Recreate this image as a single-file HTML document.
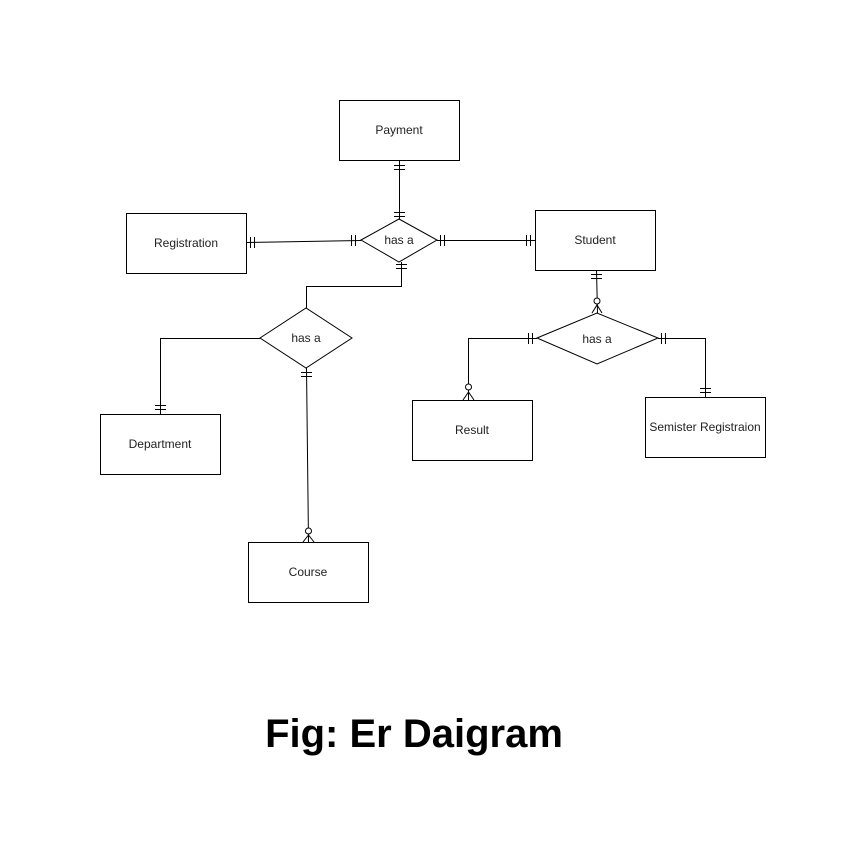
<!DOCTYPE html>
<html><head><style>body{margin:0;background:#fff}svg{display:block}</style></head><body>
<svg width="866" height="856" xmlns="http://www.w3.org/2000/svg" font-family="Liberation Sans, Arial, sans-serif">
<g fill="#fff" stroke="#000" stroke-width="1">
<rect x="339.5" y="100.5" width="120" height="60"/>
<rect x="126.5" y="213.5" width="120" height="60"/>
<rect x="535.5" y="210.5" width="120" height="60"/>
<rect x="100.5" y="414.5" width="120" height="60"/>
<rect x="248.5" y="542.5" width="120" height="60"/>
<rect x="412.5" y="400.5" width="120" height="60"/>
<rect x="645.5" y="397.5" width="120" height="60"/>
<polygon points="361,240 399,219 437,240 399,262"/>
<polygon points="260,338 306,308 352,338 306,368"/>
<polygon points="537,338 597,313 658,338 597,364"/>
</g>
<g fill="none" stroke="#000" stroke-width="1">
<path d="M399.5 160 L399.5 219"/>
<path d="M394 165.5h11M394 169.5h11M394 212.5h11M394 216.5h11"/>
<path d="M246 242.5 L361 240.5"/>
<path d="M250.5 237v11M254.5 237v11M351.5 235v11M355.5 235v11"/>
<path d="M437 240.5 L535 240.5"/>
<path d="M440.5 235v11M444.5 235v11M526.5 235v11M530.5 235v11"/>
<path d="M401.5 262 V286.5 H306.5 V308"/>
<path d="M396 264.5h11M396 268.5h11"/>
<path d="M260 338.5 H160.5 V414"/>
<path d="M155 405.5h11M155 409.5h11"/>
<path d="M306.5 368 L308.5 542"/>
<path d="M301 372.5h11M301 376.5h11"/>
<circle cx="308.5" cy="531" r="3" fill="#fff"/>
<path d="M303 542 L308.5 535 L314 542 M308.5 534 V542"/>
<path d="M596.5 270 L597.5 313"/>
<path d="M591 274.5h11M591 278.5h11"/>
<circle cx="597" cy="301" r="3" fill="#fff"/>
<path d="M592 313 L597 305 L602 313"/>
<path d="M537 338.5 H468.5 V400"/>
<path d="M528.5 333v11M532.5 333v11"/>
<circle cx="468.5" cy="387" r="3" fill="#fff"/>
<path d="M463 400 L468.5 392 L474 400"/>
<path d="M658 338.5 H705.5 V397"/>
<path d="M661.5 333v11M665.5 333v11M700 388.5h11M700 392.5h11"/>
</g>
<g font-size="12" fill="#222" text-anchor="middle">
<text x="399" y="134">Payment</text>
<text x="186" y="247">Registration</text>
<text x="595" y="244">Student</text>
<text x="160" y="448">Department</text>
<text x="308" y="576">Course</text>
<text x="472" y="434">Result</text>
<text x="705" y="431">Semister Registraion</text>
<text x="399" y="244">has a</text>
<text x="306" y="342">has a</text>
<text x="597" y="343">has a</text>
</g>
<text x="414" y="747" font-size="40" font-weight="bold" text-anchor="middle">Fig: Er Daigram</text>
</svg>
</body></html>
